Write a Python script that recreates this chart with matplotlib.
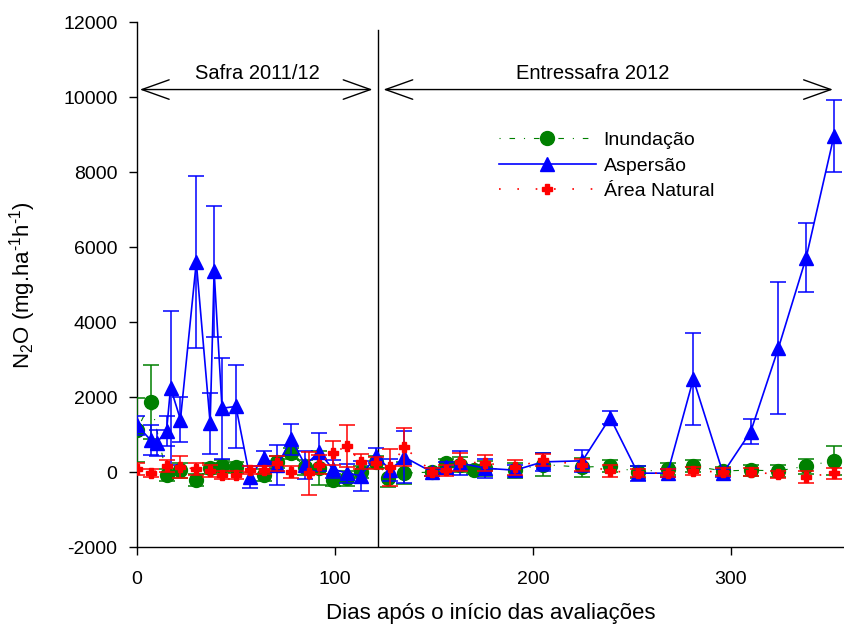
import matplotlib
matplotlib.use("Agg")
import matplotlib.pyplot as plt
from matplotlib.lines import Line2D

plt.rcParams['font.family'] = ['Liberation Sans', 'DejaVu Sans']
plt.rcParams['axes.unicode_minus'] = False
plt.rcParams['mathtext.fontset'] = 'custom'
plt.rcParams['mathtext.rm'] = 'Liberation Sans'
plt.rcParams['mathtext.it'] = 'Liberation Sans:italic'
plt.rcParams['mathtext.bf'] = 'Liberation Sans:bold'

# Inundação (green circles)
dias_inund = [0, 7, 15, 22, 30, 37, 43, 50, 64, 71, 78, 85, 92, 99, 106, 113, 121, 127, 135,
              149, 156, 163, 170, 176, 191, 205, 225, 239, 253, 268, 281, 296, 310, 324, 338, 352]
n2o_inund = [1120, 1870, -80, 50, -210, 100, 160, 130, -80, 270, 500, 130, 100, -210, -170, 0, 270, -150, -30,
             0, 240, 200, 50, 100, 50, 200, 130, 160, 0, 80, 160, 30, 50, 30, 160, 300]
err_inund = [850, 980, 150, 200, 150, 150, 150, 150, 150, 150, 150, 200, 450, 150, 200, 150, 150, 250, 300,
             100, 100, 200, 100, 200, 200, 300, 250, 150, 150, 150, 150, 100, 150, 150, 200, 390]

# Aspersão (blue triangles)
dias_asp = [0, 7, 10, 15, 17, 22, 30, 37, 39, 43, 50, 57, 64, 71, 78, 85, 92, 99, 106, 113, 121,
            128, 135, 149, 156, 163, 176, 191, 205, 225, 239, 253, 268, 281, 296, 310, 324, 338, 352]
n2o_asp = [1250, 850, 780, 1100, 2250, 1400, 5600, 1300, 5350, 1700, 1750, -130, 370, 190, 870, 190, 530, 80, -30, -100, 430,
           50, 400, 0, 130, 240, 100, 50, 270, 300, 1450, -30, -30, 2480, -30, 1080, 3310, 5720, 8960]
err_asp = [250, 400, 350, 400, 2050, 600, 2300, 820, 1750, 1350, 1100, 300, 200, 530, 420, 380, 500, 250, 250, 400, 200,
           300, 700, 100, 150, 330, 250, 150, 250, 300, 180, 200, 100, 1230, 100, 330, 1760, 920, 960]

# Área Natural (red crosses)
dias_nat = [0, 7, 15, 22, 30, 37, 43, 50, 57, 64, 71, 78, 87, 92, 99, 106, 113, 121,
            128, 135, 149, 156, 163, 176, 191, 205, 225, 239, 253, 268, 281, 296, 310, 324, 338, 352]
n2o_nat = [80, -30, 160, 130, 80, 30, -80, -80, 50, 50, 240, 0, -30, 200, 510, 690, 270, 240,
           130, 670, 0, 50, 270, 240, 130, 320, 190, 30, -30, -30, 30, 0, 0, -60, -130, -30]
err_nat = [150, 100, 150, 300, 150, 150, 100, 100, 100, 100, 200, 150, 570, 250, 320, 560, 200, 150,
           490, 500, 100, 150, 250, 220, 200, 150, 150, 150, 100, 100, 100, 100, 100, 100, 150, 150]

x_ticks = [0, 100, 200, 300]
y_ticks = [-2000, 0, 2000, 4000, 6000, 8000, 10000, 12000]
divisa = 122
rotulos_periodo = ["Safra 2011/12", "Entressafra 2012"]
nomes = ["Inundação", "Aspersão", "Área Natural"]

fig = plt.figure(figsize=(8.45, 6.3), dpi=100)
ax = fig.add_axes([0.162, 0.1317, 0.838, 0.8333])

green = '#008000'
blue = '#0000FF'
red = '#FF0000'

ax.errorbar(dias_inund, n2o_inund, yerr=err_inund, color=green, marker='o', markersize=10,
            linestyle=(0, (1, 8, 5, 8)), linewidth=0.8, ecolor=green, elinewidth=1.1,
            capsize=6, capthick=1.1, zorder=3)
ax.errorbar(dias_asp, n2o_asp, yerr=err_asp, color=blue, marker='^', markersize=10,
            linestyle='-', linewidth=1.2, ecolor=blue, elinewidth=1.1,
            capsize=6, capthick=1.1, zorder=4)
ax.errorbar(dias_nat, n2o_nat, yerr=err_nat, color=red, marker='P', markersize=7.5,
            linestyle=(0, (1, 10)), linewidth=1.2, ecolor=red, elinewidth=1.1,
            capsize=6, capthick=1.1, zorder=5)

ax.set_xlim(0, 357.6)
ax.set_ylim(-2000, 12000)
ax.set_xticks(x_ticks)
ax.set_yticks(y_ticks)
ax.tick_params(direction='out', length=6, width=1, labelsize=14)
ax.tick_params(axis='y', pad=8)
ax.tick_params(axis='x', pad=11)
ax.spines['top'].set_visible(False)
ax.spines['right'].set_visible(False)
for s in ('left', 'bottom'):
    ax.spines[s].set_linewidth(1)

ax.plot([divisa, divisa], [-2000, 11800], color='black', linewidth=1, zorder=2)

arrow_kw = dict(arrowstyle='<->,head_length=1.4,head_width=0.5', mutation_scale=14,
                lw=1, color='black', shrinkA=0, shrinkB=0)
ax.annotate('', xy=(119, 10200), xytext=(1.5, 10200), arrowprops=arrow_kw)
ax.annotate('', xy=(351.5, 10200), xytext=(124.5, 10200), arrowprops=arrow_kw)
ax.text(61, 10620, rotulos_periodo[0], ha='center', va='center', fontsize=14.5)
ax.text(230, 10640, rotulos_periodo[1], ha='center', va='center', fontsize=14.5)

ax.set_xlabel('Dias após o início das avaliações', fontsize=16, labelpad=11)
ax.set_ylabel('N$_2$O (mg.ha$^{\u2010 1}$h$^{\u2010 1}$)', fontsize=16, labelpad=18)

handles = [
    Line2D([], [], color=green, marker='o', markersize=10, linestyle=(0, (1, 8, 5, 8)), linewidth=0.8),
    Line2D([], [], color=blue, marker='^', markersize=10, linestyle='-', linewidth=1.2),
    Line2D([], [], color=red, marker='P', markersize=7.5, linestyle=(0, (1, 10)), linewidth=1.2),
]
ax.legend(handles, nomes, loc='upper left', bbox_to_anchor=(0.497, 0.81), frameon=False,
          fontsize=14, handlelength=5.0, handletextpad=0.4, labelspacing=0.4, borderpad=0)

fig.savefig('out.png', dpi=100)
